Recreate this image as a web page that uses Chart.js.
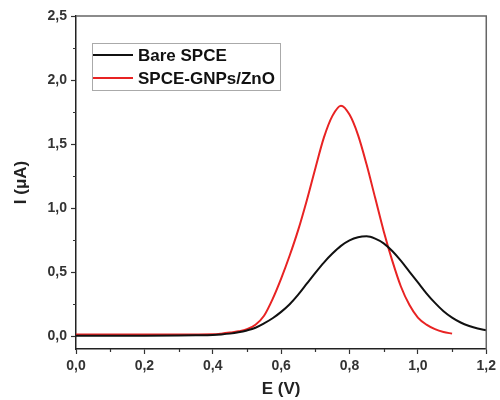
<!DOCTYPE html>
<html>
<head>
<meta charset="utf-8">
<script src="https://cdn.jsdelivr.net/npm/chart.js@4.4.1/dist/chart.umd.min.js"></script>
<style>
html,body{margin:0;padding:0;background:#fff;}
#wrap{width:500px;height:400px;position:relative;}
</style>
</head>
<body>
<div id="wrap"><canvas id="c" width="500" height="400"></canvas></div>
<script>
// ---- data ----
const seriesNames = ["Bare SPCE", "SPCE-GNPs/ZnO"];
const bareE = [0, 0.1, 0.2, 0.3, 0.35, 0.4, 0.425, 0.45, 0.475, 0.5, 0.525, 0.55, 0.575, 0.6, 0.625, 0.65, 0.675, 0.7, 0.725, 0.75, 0.775, 0.8, 0.825, 0.85, 0.875, 0.9, 0.925, 0.95, 0.975, 1.0, 1.025, 1.05, 1.075, 1.1, 1.125, 1.15, 1.175, 1.2];
const bareI = [0.004, 0.004, 0.004, 0.005, 0.007, 0.010, 0.014, 0.020, 0.030, 0.045, 0.066, 0.10, 0.14, 0.19, 0.25, 0.325, 0.41, 0.495, 0.575, 0.645, 0.705, 0.748, 0.773, 0.78, 0.762, 0.725, 0.665, 0.59, 0.505, 0.42, 0.335, 0.26, 0.195, 0.145, 0.107, 0.08, 0.06, 0.046];
const znoE = [0, 0.1, 0.2, 0.3, 0.4, 0.425, 0.45, 0.475, 0.5, 0.525, 0.55, 0.575, 0.6, 0.625, 0.65, 0.675, 0.7, 0.725, 0.75, 0.775, 0.8, 0.825, 0.85, 0.875, 0.9, 0.925, 0.95, 0.975, 1.0, 1.025, 1.05, 1.075, 1.1];
const znoI = [0.013, 0.013, 0.013, 0.013, 0.015, 0.02, 0.028, 0.038, 0.055, 0.09, 0.16, 0.29, 0.45, 0.63, 0.83, 1.06, 1.31, 1.55, 1.72, 1.80, 1.73, 1.57, 1.34, 1.08, 0.82, 0.59, 0.39, 0.245, 0.145, 0.09, 0.055, 0.033, 0.02];
const xTickLabels = ["0,0", "0,2", "0,4", "0,6", "0,8", "1,0", "1,2"];
const yTickLabels = ["0,0", "0,5", "1,0", "1,5", "2,0", "2,5"];

const colors = ["#111111", "#e82323"];
const toPts = (xs, ys) => xs.map((x, i) => ({x: x, y: ys[i]}));

const isMajor = (v, step) => Math.abs(Math.round(v / step) * step - v) < 1e-6;

const framePlugin = {
  id: 'frame',
  afterDraw(chart) {
    const ctx = chart.ctx;
    const a = chart.chartArea;
    const xs = chart.scales.x, ys = chart.scales.y;
    ctx.save();
    // top and right frame
    ctx.strokeStyle = '#666';
    ctx.lineWidth = 1.5;
    ctx.beginPath();
    ctx.moveTo(a.left, a.top);
    ctx.lineTo(a.right, a.top);
    ctx.lineTo(a.right, a.bottom);
    ctx.stroke();
    // minor ticks
    ctx.strokeStyle = '#333';
    ctx.lineWidth = 1.2;
    ctx.beginPath();
    xs.ticks.forEach(t => {
      if (!isMajor(t.value, 0.2)) {
        const px = Math.round(xs.getPixelForValue(t.value)) + 0.5;
        ctx.moveTo(px, a.bottom);
        ctx.lineTo(px, a.bottom + 3);
      }
    });
    ys.ticks.forEach(t => {
      if (!isMajor(t.value, 0.5)) {
        const py = Math.round(ys.getPixelForValue(t.value)) + 0.5;
        ctx.moveTo(a.left, py);
        ctx.lineTo(a.left - 3, py);
      }
    });
    ctx.stroke();
    // legend box
    const bx = a.left + 16, by = a.top + 27, bw = 188, bh = 47;
    ctx.fillStyle = '#fff';
    ctx.fillRect(bx, by, bw, bh);
    ctx.strokeStyle = '#aaa';
    ctx.lineWidth = 1;
    ctx.strokeRect(bx + 0.5, by + 0.5, bw, bh);
    ctx.font = 'bold 17px "Liberation Sans", Arial, sans-serif';
    ctx.textBaseline = 'middle';
    ctx.textAlign = 'left';
    chart.data.datasets.forEach((ds, i) => {
      const ly = by + 12 + i * 23;
      ctx.strokeStyle = ds.borderColor;
      ctx.lineWidth = 2;
      ctx.beginPath();
      ctx.moveTo(bx + 1, ly);
      ctx.lineTo(bx + 41, ly);
      ctx.stroke();
      ctx.fillStyle = '#111';
      ctx.fillText(ds.label, bx + 46, ly + 1);
    });
    ctx.restore();
  }
};

new Chart(document.getElementById('c'), {
  type: 'line',
  data: {
    datasets: [
      {label: seriesNames[0], data: toPts(bareE, bareI), borderColor: colors[0], borderWidth: 2, pointRadius: 0, cubicInterpolationMode: 'monotone', fill: false},
      {label: seriesNames[1], data: toPts(znoE, znoI), borderColor: colors[1], borderWidth: 2, pointRadius: 0, cubicInterpolationMode: 'monotone', fill: false}
    ]
  },
  options: {
    responsive: false,
    animation: false,
    devicePixelRatio: 1,
    layout: {padding: {top: 16, right: 12, left: 0, bottom: 0}},
    plugins: {legend: {display: false}, tooltip: {enabled: false}},
    scales: {
      x: {
        type: 'linear',
        min: 0, max: 1.2,
        afterFit: s => { s.height = 51; },
        ticks: {
          stepSize: 0.1, autoSkip: false, maxRotation: 0, padding: 4,
          color: '#333',
          font: {family: '"Liberation Sans", Arial, sans-serif', size: 14, weight: 'bold'},
          callback: v => isMajor(v, 0.2) ? xTickLabels[Math.round(v / 0.2)] : ''
        },
        grid: {drawOnChartArea: false, drawTicks: true, tickLength: 5,
          tickColor: c => (c.tick && isMajor(c.tick.value, 0.2)) ? '#333' : 'rgba(0,0,0,0)', tickWidth: 1.2},
        border: {display: true, color: '#222', width: 1.5},
        title: {display: true, text: 'E (V)', color: '#222', padding: {top: -6, bottom: 0},
          font: {family: '"Liberation Sans", Arial, sans-serif', size: 17, weight: 'bold'}}
      },
      y: {
        type: 'linear',
        min: -0.1, max: 2.5,
        afterFit: s => { s.width = 76; },
        ticks: {
          stepSize: 0.25, autoSkip: false, includeBounds: false, padding: 4,
          color: '#333',
          font: {family: '"Liberation Sans", Arial, sans-serif', size: 14, weight: 'bold'},
          callback: v => (v >= -1e-6 && isMajor(v, 0.5)) ? yTickLabels[Math.round(v / 0.5)] : ''
        },
        grid: {drawOnChartArea: false, drawTicks: true, tickLength: 5,
          tickColor: c => (c.tick && isMajor(c.tick.value, 0.5)) ? '#333' : 'rgba(0,0,0,0)', tickWidth: 1.2},
        border: {display: true, color: '#222', width: 1.5},
        title: {display: true, text: 'I (\u03bcA)', color: '#222', padding: {top: 11, bottom: 0},
          font: {family: '"Liberation Sans", Arial, sans-serif', size: 17, weight: 'bold'}}
      }
    }
  },
  plugins: [framePlugin]
});
</script>
</body>
</html>
